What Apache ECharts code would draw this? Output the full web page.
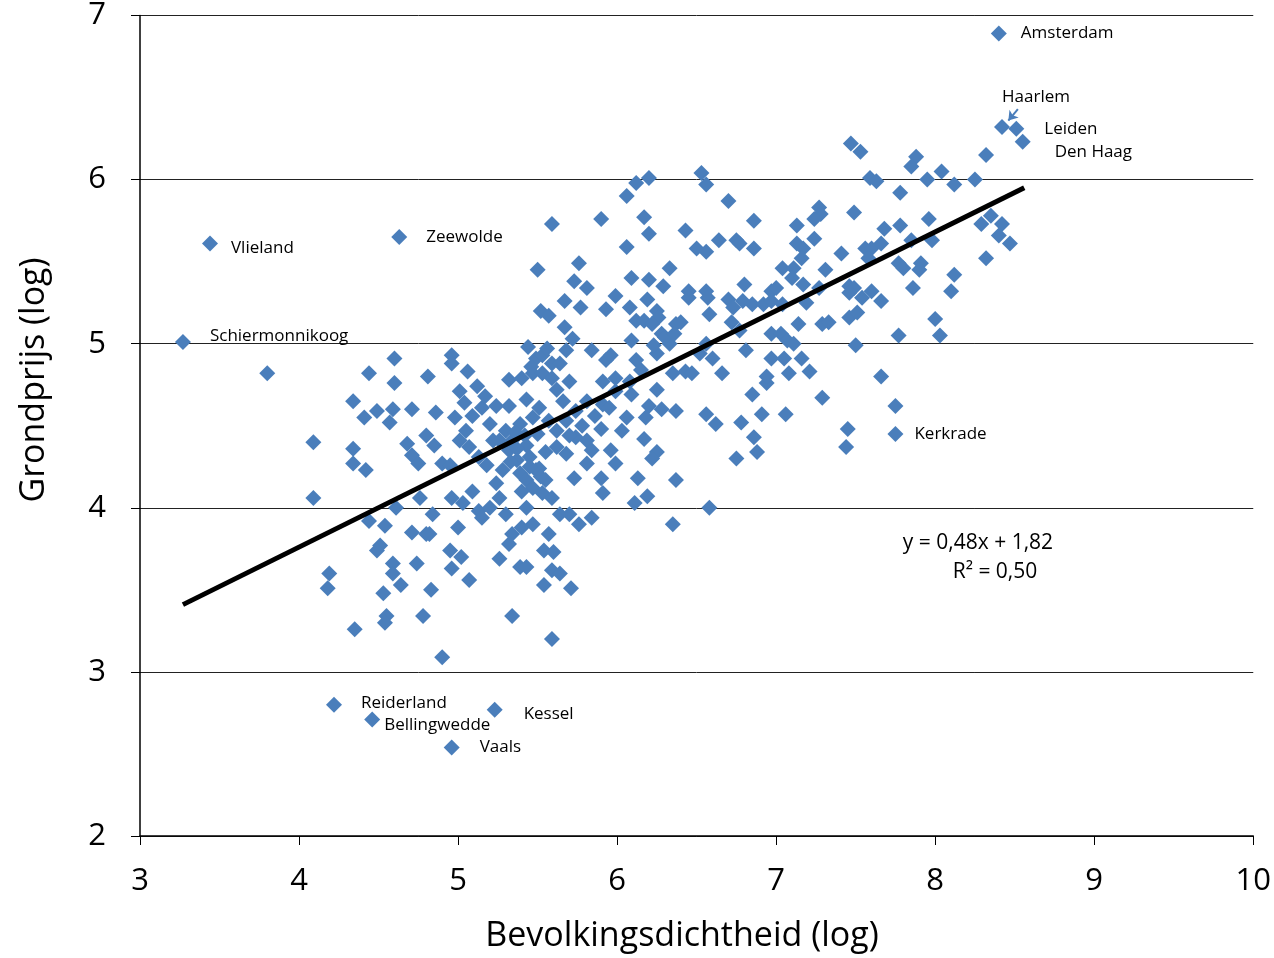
<!DOCTYPE html>
<html>
<head>
<meta charset="utf-8">
<script src="https://cdn.jsdelivr.net/npm/echarts@6/dist/echarts.min.js"></script>
<style>
html,body{margin:0;padding:0;background:#fff;}
#chart{width:1274px;height:958px;}
</style>
</head>
<body>
<div id="chart"></div>
<script>
// ---- Data (log population density, log land price) ----
const xTicks = [3, 4, 5, 6, 7, 8, 9, 10];
const yTicks = [2, 3, 4, 5, 6, 7];

const townNames = ['Amsterdam','Haarlem','Leiden','Den Haag','Vlieland','Zeewolde','Schiermonnikoog','Kerkrade','Reiderland','Bellingwedde','Kessel','Vaals'];
const townX = [8.40, 8.42, 8.51, 8.55, 3.44, 4.63, 3.27, 7.75, 4.22, 4.46, 5.23, 4.96];
const townY = [6.89, 6.32, 6.31, 6.23, 5.61, 5.65, 5.01, 4.45, 2.80, 2.71, 2.77, 2.54];

const pointsLeft = [
[3.80,4.82],[4.44,4.82],[4.60,4.91],[4.81,4.80],[4.60,4.76],[4.34,4.65],[4.41,4.55],[4.49,4.59],[4.59,4.60],[4.57,4.52],
[4.71,4.60],[4.09,4.40],[4.34,4.36],[4.34,4.27],[4.42,4.23],[4.68,4.39],[4.71,4.32],[4.75,4.27],[4.80,4.44],[4.09,4.06],
[4.76,4.06],[4.61,4.00],[4.44,3.92],[4.54,3.89],[4.71,3.85],[4.80,3.84],[4.51,3.77],[4.49,3.74],[4.19,3.60],[4.18,3.51],
[4.59,3.66],[4.59,3.60],[4.74,3.66],[4.64,3.53],[4.53,3.48],[4.55,3.34],[4.54,3.30],[4.78,3.34],[4.35,3.26]
];
const pointsUpperMid = [
[4.96,4.93],[4.96,4.88],[5.06,4.83],[5.32,4.78],[5.40,4.79],[5.49,4.91],[5.53,4.93],[5.59,4.88],[5.47,4.82],[5.53,4.82],
[5.59,4.79],[5.44,4.98],[5.59,5.73],[5.50,5.45],[5.52,5.20],[5.57,5.17],[5.46,4.86],[5.56,4.97]
];
const pointsCore = [
[5.01,4.71],[5.12,4.74],[4.86,4.58],[4.98,4.55],[5.15,4.61],[5.24,4.62],[5.32,4.62],[5.43,4.66],[5.51,4.61],[5.47,4.55],
[5.39,4.51],[5.30,4.47],[5.22,4.41],[5.05,4.47],[5.01,4.41],[5.07,4.37],[5.13,4.31],[4.85,4.38],[4.90,4.27],[4.95,4.26],
[5.32,4.35],[5.37,4.29],[5.45,4.31],[5.51,4.24],[5.39,4.21],[5.43,4.17],[5.47,4.12],[5.53,4.09],[5.59,4.06],[5.55,4.34],
[5.62,4.47],[5.68,4.53],[5.74,4.59],[5.81,4.65],[5.66,4.65],[5.91,4.63],[5.99,4.71],[5.68,4.33],[5.74,4.43],[5.81,4.41],
[5.84,4.35],[5.81,4.27],[5.96,4.35],[5.99,4.27],[6.03,4.47],[5.73,4.18],[5.90,4.18],[5.91,4.09],[4.96,4.06],[5.03,4.03],
[5.09,4.10],[5.13,3.98],[5.20,4.00],[5.26,4.06],[5.24,4.15],[5.15,3.94],[5.30,3.96],[5.40,3.88],[5.34,3.84],[5.32,3.78],
[5.43,4.00],[5.47,3.90],[5.64,3.96],[5.70,3.96],[5.76,3.90],[5.84,3.94],[5.57,3.84],[5.54,3.74],[5.60,3.73],[4.84,3.96],
[4.82,3.84],[5.00,3.88],[4.95,3.74],[5.02,3.70],[4.96,3.63],[5.07,3.56],[5.26,3.69],[5.39,3.64],[5.43,3.64],[5.59,3.62],
[5.64,3.60],[5.54,3.53],[5.71,3.51],[4.83,3.50],[5.34,3.34],[4.90,3.09],[5.59,3.20],[5.49,4.23],[5.55,4.17],[5.40,4.10],
[5.28,4.23],[5.20,4.51],[5.09,4.56],[5.26,4.41],[5.34,4.41],[5.57,4.53],[5.43,4.38],[5.95,4.61],[6.06,4.55],
[5.36,4.46],[5.42,4.44],[5.50,4.45],[5.37,4.36],[5.45,4.25],[5.52,4.19],[5.33,4.28],[5.18,4.26],[5.62,4.37],[5.70,4.44],
[5.86,4.56],[5.78,4.50],[5.04,4.64],[5.17,4.68],[5.62,4.72],[5.90,4.48]
];
const pointsMid = [
[6.12,5.98],[6.20,6.01],[6.06,5.90],[6.53,6.04],[6.56,5.97],[6.70,5.87],[5.90,5.76],[6.17,5.77],[6.20,5.67],[6.43,5.69],
[6.06,5.59],[6.50,5.58],[6.56,5.56],[6.64,5.63],[6.75,5.63],[5.76,5.49],[5.73,5.38],[5.81,5.34],[6.33,5.46],[6.09,5.40],
[6.20,5.39],[6.29,5.35],[6.45,5.32],[6.56,5.32],[5.67,5.26],[5.77,5.22],[5.99,5.29],[5.93,5.21],[6.08,5.22],[6.19,5.27],
[6.25,5.20],[6.45,5.28],[6.57,5.28],[6.58,5.18],[6.70,5.27],[6.73,5.22],[5.67,5.10],[5.72,5.03],[6.12,5.14],[6.17,5.14],
[6.26,5.16],[6.37,5.12],[6.28,5.06],[6.33,5.00],[6.09,5.02],[6.56,5.00],[6.72,5.13],[5.64,4.88],[5.70,4.77],[5.84,4.96],
[5.93,4.90],[5.91,4.77],[6.12,4.90],[6.08,4.77],[6.35,4.82],[6.43,4.83],[6.47,4.82],[6.66,4.82],[6.52,4.94],[6.60,4.91],
[6.22,5.12],[6.40,5.13],[6.25,4.94],[5.96,4.93],[5.99,4.79],[5.68,4.96],[6.30,5.04],[6.23,4.99],[6.36,5.06],[6.15,4.84],
[6.25,4.72],[6.09,4.69],[6.20,4.62],[6.28,4.60],[6.37,4.59],[6.56,4.57],[6.62,4.51],[6.78,4.52],[6.91,4.57],[7.06,4.57],
[6.85,4.69],[6.94,4.76],[7.29,4.67],[6.18,4.55],[6.86,4.43],[6.88,4.34],[6.75,4.30],[7.45,4.48],[7.44,4.37],[6.17,4.42],
[6.25,4.34],[6.22,4.30],[6.13,4.18],[6.37,4.17],[6.19,4.07],[6.11,4.03],[6.58,4.00],[6.35,3.90]
];
const pointsHigh = [
[7.47,6.22],[7.53,6.17],[7.88,6.14],[7.85,6.08],[8.32,6.15],[7.59,6.01],[7.63,5.99],[7.95,6.00],[8.04,6.05],[8.12,5.97],
[8.25,6.00],[7.78,5.92],[6.86,5.75],[7.27,5.83],[7.28,5.79],[7.24,5.76],[7.49,5.80],[7.13,5.72],[7.24,5.64],[7.96,5.76],
[8.29,5.73],[8.35,5.78],[8.42,5.73],[8.40,5.66],[8.47,5.61],[8.32,5.52],[7.68,5.70],[7.78,5.72],[7.85,5.63],[7.98,5.63],
[6.77,5.61],[6.86,5.58],[7.13,5.61],[7.17,5.58],[7.16,5.52],[7.41,5.55],[7.56,5.58],[7.60,5.58],[7.66,5.61],[7.58,5.52],
[7.77,5.49],[7.80,5.46],[7.91,5.49],[7.90,5.45],[8.12,5.42],[8.10,5.32],[7.04,5.46],[7.11,5.46],[7.10,5.40],[7.17,5.36],
[7.31,5.45],[6.80,5.36],[6.97,5.32],[7.00,5.34],[7.27,5.34],[7.46,5.35],[7.49,5.34],[7.46,5.31],[7.54,5.28],[7.60,5.32],
[7.66,5.26],[7.86,5.34],[6.79,5.26],[6.85,5.24],[6.92,5.24],[6.97,5.26],[7.04,5.24],[7.19,5.25],[7.46,5.16],[7.51,5.19],
[7.14,5.12],[7.29,5.12],[7.33,5.13],[8.00,5.15],[8.03,5.05],[7.77,5.05],[6.77,5.08],[6.97,5.06],[7.03,5.06],[7.07,5.02],
[7.11,5.00],[7.50,4.99],[6.81,4.96],[6.97,4.91],[7.05,4.91],[7.16,4.91],[7.21,4.83],[7.66,4.80],[6.94,4.80],[7.75,4.62],
[7.08,4.82]
];

const trendLine = [[3.27, 3.41], [8.56, 5.95]];
const equationText = ['y = 0,48x + 1,82', 'R\u00B2 = 0,50'];
// Arrow pointing at Haarlem
const haarlemArrow = [[8.52, 6.43], [8.46, 6.36]];

// ---- Styles ----
const BLUE = '#4A7EBB';
const FONT = '"Open Sans", Lato, sans-serif';
const labelStyle = {
  'Amsterdam': {position: 'right', distance: 14},
  'Haarlem': {position: 'top', distance: 5, offset: [34, -8]},
  'Leiden': {position: 'right', distance: 20},
  'Den Haag': {position: 'right', distance: 24, offset: [0, 10]},
  'Vlieland': {position: 'right', distance: 13, offset: [0, 5]},
  'Zeewolde': {position: 'right', distance: 19},
  'Schiermonnikoog': {position: 'right', distance: 19, offset: [0, -6]},
  'Kerkrade': {position: 'right', distance: 11},
  'Reiderland': {position: 'right', distance: 19, offset: [0, -2]},
  'Bellingwedde': {position: 'right', distance: 4, offset: [0, 6]},
  'Kessel': {position: 'right', distance: 21, offset: [0, 5]},
  'Vaals': {position: 'right', distance: 20}
};

const allPoints = [].concat(pointsLeft, pointsUpperMid, pointsCore, pointsMid, pointsHigh);
const townData = townNames.map((n, i) => ({
  name: n,
  value: [townX[i], townY[i]],
  label: Object.assign({show: true, formatter: n}, labelStyle[n])
}));

const chart = echarts.init(document.getElementById('chart'), null, {renderer: 'canvas'});
chart.setOption({
  animation: false,
  backgroundColor: '#ffffff',
  grid: {left: 140, right: 19, top: 14, bottom: 122, containLabel: false},
  xAxis: {
    type: 'value', min: xTicks[0], max: xTicks[xTicks.length - 1], interval: 1,
    axisLine: {show: true, onZero: false, lineStyle: {color: '#000', width: 1.5}},
    axisTick: {show: true, inside: false, length: 9, lineStyle: {color: '#000', width: 1}},
    axisLabel: {color: '#000', fontSize: 31, fontFamily: FONT, margin: 30},
    splitLine: {show: false}
  },
  yAxis: {
    type: 'value', min: yTicks[0], max: yTicks[yTicks.length - 1], interval: 1,
    axisLine: {show: true, onZero: false, lineStyle: {color: '#000', width: 1.5}},
    axisTick: {show: true, inside: false, length: 9, lineStyle: {color: '#000', width: 1}},
    axisLabel: {color: '#000', fontSize: 31, fontFamily: FONT, margin: 34},
    splitLine: {show: true, lineStyle: {color: '#222', width: 1}}
  },
  graphic: [
    {type: 'text', x: 34, y: 380, rotation: Math.PI / 2,
     style: {text: 'Grondprijs (log)', font: '34px ' + FONT, fill: '#000', textAlign: 'center', textVerticalAlign: 'middle', verticalAlign: 'middle'}},
    {type: 'text', x: 682, y: 936,
     style: {text: 'Bevolkingsdichtheid (log)', font: '34px ' + FONT, fill: '#000', textAlign: 'center', textVerticalAlign: 'middle', verticalAlign: 'middle'}},
    {type: 'text', x: 978, y: 543,
     style: {text: equationText[0], font: '21px ' + FONT, fill: '#000', textAlign: 'center', textVerticalAlign: 'middle', verticalAlign: 'middle'}},
    {type: 'text', x: 995, y: 572,
     style: {text: equationText[1], font: '21px ' + FONT, fill: '#000', textAlign: 'center', textVerticalAlign: 'middle', verticalAlign: 'middle'}}
  ],
  series: [
    {
      type: 'scatter', symbol: 'diamond', symbolSize: 16,
      itemStyle: {color: BLUE, opacity: 1},
      data: allPoints, z: 2
    },
    {
      type: 'scatter', symbol: 'diamond', symbolSize: 16,
      itemStyle: {color: BLUE, opacity: 1},
      label: {color: '#000', fontSize: 17, fontFamily: FONT, opacity: 1},
      data: townData, z: 3,
      markLine: {
        silent: true, symbol: ['none', 'arrow'], symbolSize: 9,
        lineStyle: {color: BLUE, width: 2, type: 'solid', opacity: 1},
        label: {show: false},
        data: [[{coord: haarlemArrow[0]}, {coord: haarlemArrow[1]}]]
      }
    },
    {
      type: 'line', data: trendLine, symbol: 'none',
      lineStyle: {color: '#000', width: 5}, z: 4
    }
  ]
});
</script>
</body>
</html>
